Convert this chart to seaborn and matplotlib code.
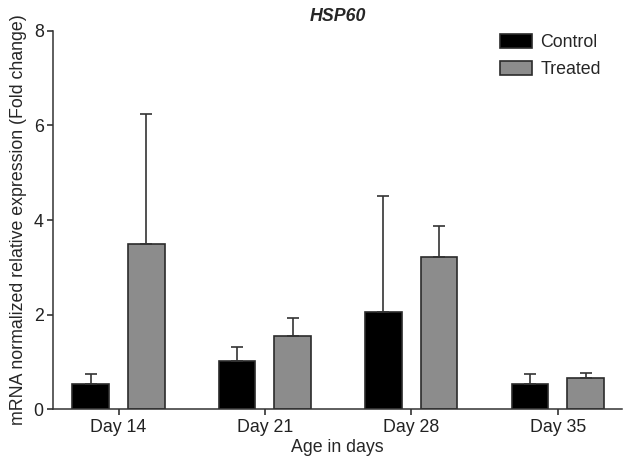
import numpy as np
import pandas as pd
import matplotlib
matplotlib.use("Agg")
import matplotlib.pyplot as plt
import seaborn as sns

# values
days = ["Day 14", "Day 21", "Day 28", "Day 35"]
groups = ["Control", "Treated"]
control_mean = [0.53, 1.01, 2.05, 0.53]
control_err = [0.21, 0.31, 2.45, 0.21]
treated_mean = [3.50, 1.54, 3.21, 0.66]
treated_err = [2.75, 0.38, 0.67, 0.11]

df = pd.DataFrame({
    "day": days * 2,
    "group": ["Control"] * 4 + ["Treated"] * 4,
    "value": control_mean + treated_mean,
    "err": control_err + treated_err,
})

sns.set_style("ticks")
plt.rcParams["font.family"] = ["Liberation Sans", "DejaVu Sans"]
fs = 12.8

fig = plt.figure(figsize=(6.24, 4.66), dpi=100)
ax = fig.add_axes([0.0855, 0.1217, 0.9115, 0.8123])

sns.barplot(data=df, x="day", y="value", hue="group", order=days, hue_order=groups,
            palette={"Control": "black", "Treated": "#8c8c8c"},
            width=0.76, gap=0.34, errorbar=None, edgecolor="#2b2b2b",
            linewidth=1.2, ax=ax)

# one-sided error bars on top of each bar
for cont, g in zip(ax.containers, groups):
    sub = df[df["group"] == g].set_index("day").loc[days]
    xs = [p.get_x() + p.get_width() / 2 for p in cont.patches]
    ys = [p.get_height() for p in cont.patches]
    errs = sub["err"].values
    ax.errorbar(xs, ys, yerr=[np.zeros(len(errs)), errs], fmt="none",
                ecolor="#333333", elinewidth=1.2, capsize=4.5, capthick=1.2, zorder=1)

ax.set_xlim(-0.445, 3.44)
ax.set_ylim(0, 8)
ax.set_yticks([0, 2, 4, 6, 8])
sns.despine(ax=ax)
for s in ["left", "bottom"]:
    ax.spines[s].set_linewidth(1.1)
    ax.spines[s].set_color("#333333")
ax.tick_params(axis="both", labelsize=fs, colors="#222222", width=1.1, length=4)
ax.tick_params(axis="y", pad=3)
ax.tick_params(axis="x", pad=3)

ax.set_xlabel("Age in days", fontsize=fs, labelpad=2)
ax.set_ylabel("mRNA normalized relative expression (Fold change)", fontsize=fs, labelpad=5)
ax.set_title("HSP60", fontsize=fs, fontweight="bold", fontstyle="italic", pad=7)

ax.legend(loc="upper left", bbox_to_anchor=(0.758, 1.033), frameon=False,
          fontsize=fs, handlelength=1.8, handleheight=0.8, labelspacing=0.55,
          handletextpad=0.45)

fig.savefig("out.png", dpi=100)
